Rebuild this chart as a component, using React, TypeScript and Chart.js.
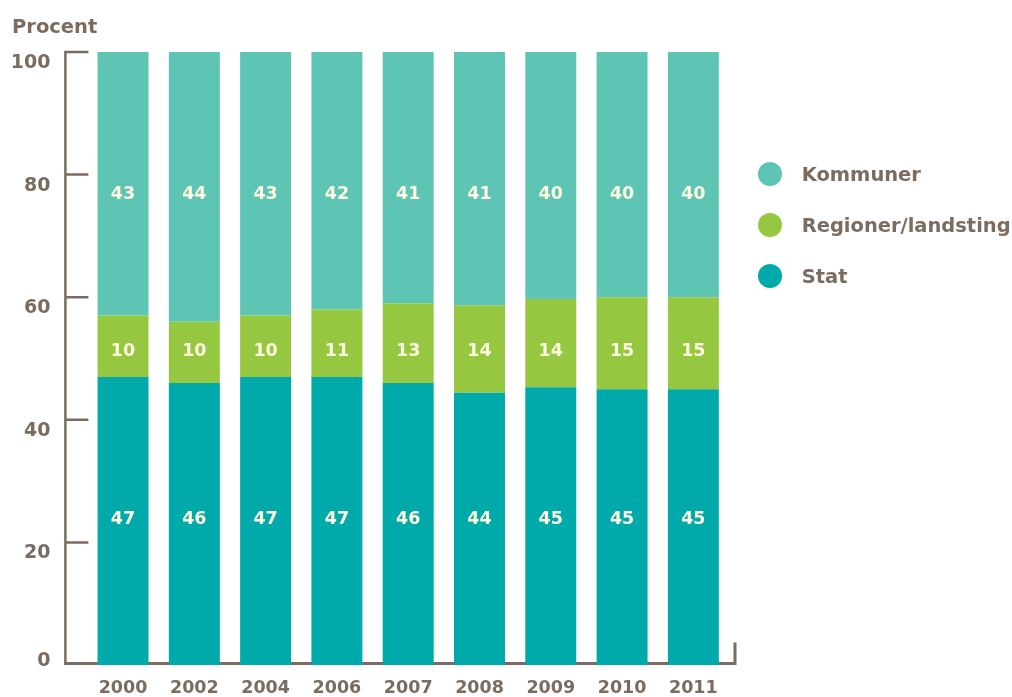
import React, { useEffect, useRef } from "react";
import { Chart, registerables } from "chart.js";

Chart.register(...registerables);

// ---- data ----
const years = ["2000", "2002", "2004", "2006", "2007", "2008", "2009", "2010", "2011"];
const stat = [47, 46, 47, 47, 46, 44.4, 45.3, 45, 45];
const regioner = [10, 10, 10, 11, 13, 14.3, 14.4, 15, 15];
const kommuner = [43, 44, 43, 42, 41, 41.3, 40.3, 40, 40];
const yTicks = [0, 20, 40, 60, 80, 100];
const seriesNames = ["Stat", "Regioner/landsting", "Kommuner"];
const axisTitle = "Procent";

// ---- style ----
const INK = "#7a6c60";
const LABEL_INK = "#fdf8e0";
const COLORS = ["#00aaaa", "#95c840", "#5ec4b4"];
const FONT = "'DejaVu Sans', sans-serif";
// fixed heights (in axis units) where the segment values are written
const LABEL_LEVELS = [24.1, 51.4, 77.0];

const decor = {
  id: "decor",
  beforeDatasetsDraw(chart: any) {
    const { ctx, chartArea } = chart;
    const y = chart.scales.y;
    const { left, right, bottom } = chartArea;
    const axX = left - 22;
    const rightX = right + 6;
    ctx.save();
    ctx.strokeStyle = INK;
    ctx.lineWidth = 2.5;
    ctx.beginPath();
    ctx.moveTo(axX, y.getPixelForValue(100) - 1.25);
    ctx.lineTo(axX, bottom);
    for (const v of yTicks) {
      if (v === 0) continue;
      const py = y.getPixelForValue(v);
      ctx.moveTo(axX, py);
      ctx.lineTo(axX + 23, py);
    }
    ctx.stroke();
    ctx.lineWidth = 3;
    ctx.beginPath();
    const yb = bottom - 1.5;
    ctx.moveTo(axX - 1.25, yb);
    ctx.lineTo(rightX, yb);
    ctx.lineTo(rightX, yb - 21);
    ctx.stroke();
    ctx.restore();
  },
  afterDatasetsDraw(chart: any) {
    const { ctx } = chart;
    const y = chart.scales.y;
    ctx.save();
    ctx.fillStyle = LABEL_INK;
    ctx.font = `bold 17.5px ${FONT}`;
    ctx.textAlign = "center";
    ctx.textBaseline = "alphabetic";
    chart.data.datasets.forEach((ds: any, i: number) => {
      const meta = chart.getDatasetMeta(i);
      const py = y.getPixelForValue(LABEL_LEVELS[i]);
      meta.data.forEach((bar: any, j: number) => {
        ctx.fillText(String(Math.round(ds.data[j])), bar.x, py + 6.4);
      });
    });
    ctx.restore();
  },
  afterDraw(chart: any) {
    const { ctx, chartArea } = chart;
    const y = chart.scales.y;
    const axX = chartArea.left - 22;
    ctx.save();
    ctx.fillStyle = INK;
    // y tick labels
    ctx.font = `bold 19px ${FONT}`;
    ctx.textAlign = "right";
    ctx.textBaseline = "alphabetic";
    for (const v of yTicks) {
      const py = y.getPixelForValue(v) + (v === 0 ? -6.5 : 9);
      ctx.fillText(String(v), axX - 15, py + 7);
    }
    // axis title
    ctx.textAlign = "left";
    ctx.font = `bold 19.5px ${FONT}`;
    ctx.fillText(axisTitle, 12, 32.5);
    // legend (top to bottom: reverse of stacking)
    const items = chart.data.datasets
      .map((d: any) => ({ label: d.label, color: d.backgroundColor }))
      .reverse();
    let size = 19.5;
    ctx.font = `bold ${size}px ${FONT}`;
    const widest = Math.max(...items.map((it: any) => ctx.measureText(it.label).width));
    if (widest > 209) size = (size * 209) / widest;
    ctx.font = `bold ${size}px ${FONT}`;
    const lx = 770;
    const ly0 = 174;
    const gap = 51;
    items.forEach((it: any, k: number) => {
      const cy = ly0 + k * gap;
      ctx.fillStyle = it.color;
      ctx.beginPath();
      ctx.arc(lx, cy, 12, 0, Math.PI * 2);
      ctx.fill();
      ctx.fillStyle = INK;
      ctx.fillText(it.label, lx + 31.7, cy + 7.2);
    });
    ctx.restore();
  },
};

export default function App() {
  const ref = useRef<HTMLCanvasElement | null>(null);
  useEffect(() => {
    if (!ref.current) return;
    const chart = new Chart(ref.current, {
      type: "bar",
      data: {
        labels: years,
        datasets: [
          { label: seriesNames[0], data: stat, backgroundColor: COLORS[0] },
          { label: seriesNames[1], data: regioner, backgroundColor: COLORS[1] },
          { label: seriesNames[2], data: kommuner, backgroundColor: COLORS[2] },
        ],
      },
      options: {
        animation: false,
        responsive: true,
        maintainAspectRatio: false,
        layout: { padding: { top: 52, right: 283, left: 0, bottom: 0 } },
        datasets: { bar: { categoryPercentage: 1, barPercentage: 0.715, borderWidth: 0 } },
        plugins: { legend: { display: false }, tooltip: { enabled: false } },
        scales: {
          x: {
            stacked: true,
            grid: { display: false, drawTicks: false },
            border: { display: false },
            ticks: {
              color: INK,
              font: { family: FONT, weight: "bold", size: 17.5 },
              padding: 13,
              maxRotation: 0,
              autoSkip: false,
            },
            afterFit: (s: any) => {
              s.height = 32;
            },
          },
          y: {
            stacked: true,
            min: 0,
            max: 100,
            grid: { display: false, drawTicks: false },
            border: { display: false },
            ticks: { display: false, stepSize: 20 },
            afterFit: (s: any) => {
              s.width = 87.4;
            },
          },
        },
      },
      plugins: [decor],
    });
    return () => chart.destroy();
  }, []);
  return (
    <div style={{ position: "absolute", left: 0, top: 0, width: 1012, height: 697 }}>
      <canvas ref={ref} />
    </div>
  );
}
